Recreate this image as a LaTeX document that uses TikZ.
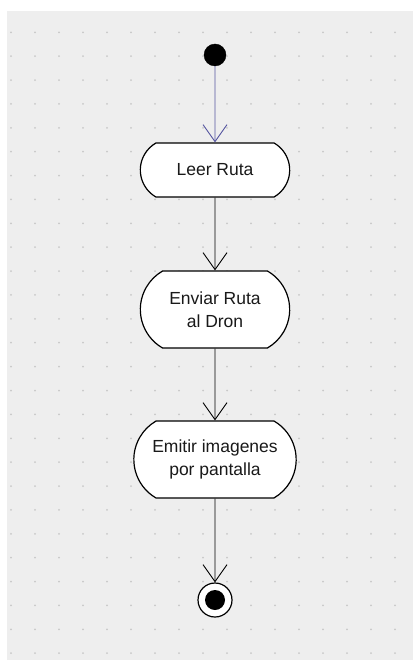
\documentclass[tikz,border=0pt]{standalone}
\usepackage{fontspec}
\setmainfont{Liberation Sans}
\usetikzlibrary{positioning, arrows.meta, shapes.misc}
\definecolor{azul}{RGB}{85,85,160}
\definecolor{fondo}{RGB}{238,238,238}
\definecolor{punto}{RGB}{200,200,200}

\begin{document}
\begin{tikzpicture}[x=1pt, y=-1pt,
    accion/.style={draw, fill=white, rounded rectangle, rounded rectangle arc length=120,
      line width=1.2pt, align=center, text=black!90, font=\fontsize{17.5}{23}\selectfont},
    flujo/.style={-{Straight Barb[length=17pt, width=24pt]}, line width=0.9pt}]
    % fondo con puntos
    \useasboundingbox (0,0) rectangle (413,660);
    \fill[fondo] (7,11) rectangle (413,660);
    \foreach \i in {0,...,16}
      \foreach \j in {0,...,26}
        \fill[punto] (11+24*\i, 32.3+23.88*\j) circle (1pt);
    % nodo inicial
    \node[circle, draw, fill=black, minimum size=22pt, inner sep=0pt] (inicio) at (215,55) {};
    % acciones
    \node[accion, minimum width=156pt, minimum height=54pt] (leer) at (215,170) {Leer Ruta};
    \node[accion, minimum width=156pt, minimum height=77pt] (enviar) at (215,309.5) {Enviar Ruta\\al Dron};
    \node[accion, minimum width=169pt, minimum height=77pt] (emitir) at (215,459.5) {Emitir imagenes\\por pantalla};
    % nodo final
    \node[circle, draw, fill=white, minimum size=34pt, inner sep=0pt, line width=1.2pt,
      path picture={\fill[black] (path picture bounding box.center) circle (10pt);}] (fin) at (215,600) {};
    % flujos
    \draw[flujo, azul] (inicio) -- (leer);
    \draw[flujo] (leer) -- (enviar);
    \draw[flujo] (enviar) -- (emitir);
    \draw[flujo] (emitir) -- (fin);
\end{tikzpicture}
\end{document}
